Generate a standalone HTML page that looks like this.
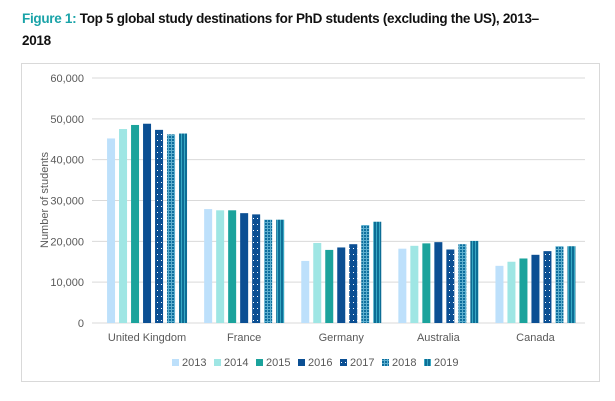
<!DOCTYPE html>
<html><head><meta charset="utf-8"><style>
body{margin:0;width:615px;height:401px;background:#fff;font-family:"Liberation Sans",sans-serif;overflow:hidden}
#title{position:absolute;left:22px;top:8px;width:590px;font-weight:bold;font-size:13.5px;letter-spacing:-0.3px;line-height:22px;color:#111;white-space:nowrap}
#title span{color:#1aa3a8}
#frame{position:absolute;left:21px;top:63px;width:577px;height:317px;border:1px solid #d9d9d9}
svg{position:absolute;left:0;top:0}
</style></head><body>
<div id="title"><span>Figure 1:</span> Top 5 global study destinations for PhD students (excluding the US), 2013–<br>2018</div>
<div id="frame"></div>
<svg id="chart" width="615" height="401">
<defs>
<pattern id="p17" width="4" height="6" patternUnits="userSpaceOnUse"><rect width="4" height="6" fill="#0b4f93"/><rect x="1" y="2" width="1" height="1" fill="#fff"/></pattern>
<pattern id="p18" width="3" height="3" patternUnits="userSpaceOnUse"><rect width="3" height="3" fill="#0e6f9e"/><rect width="3" height="1" fill="#5fb0cf"/><rect width="1" height="3" fill="#5fb0cf"/></pattern>
<pattern id="p19" width="3" height="3" patternUnits="userSpaceOnUse"><rect width="3" height="3" fill="#0d6d95"/><rect x="1" width="1" height="3" fill="#38a9c4"/></pattern>
</defs>
</svg>
<script>
const categories=["United Kingdom","France","Germany","Australia","Canada"];
const years=["2013","2014","2015","2016","2017","2018","2019"];
const s2013=[45200,27900,15200,18200,14000];
const s2014=[47500,27600,19600,18900,15000];
const s2015=[48500,27600,17900,19500,15800];
const s2016=[48800,26900,18500,19800,16700];
const s2017=[47300,26600,19300,18000,17600];
const s2018=[46200,25300,24000,19300,18800];
const s2019=[46400,25300,24800,20100,18800];
const ticks=[0,10000,20000,30000,40000,50000,60000];
const series=[s2013,s2014,s2015,s2016,s2017,s2018,s2019];
const fills=["#bde0fb","#9fe6e4","#1ba39c","#0b4f93","url(#p17)","url(#p18)","url(#p19)"];
const svg=document.getElementById('chart');
const NS="http://www.w3.org/2000/svg";
const X0=98.5,X1=584,Y0=323,Y1=78,MAX=60000;
const y=v=>Y0-(v/MAX)*(Y0-Y1);
const cw=(X1-X0)/categories.length;
const bw=8,step=12;
function mk(t,a){const e=document.createElementNS(NS,t);for(const k in a)e.setAttribute(k,a[k]);svg.appendChild(e);return e;}
ticks.forEach(t=>{
 const l=mk('line',{x1:92,x2:585,y1:y(t),y2:y(t),stroke:'#d9d9d9','stroke-width':1});
 
 
 const tx=mk('text',{x:84,y:y(t)+4,'text-anchor':'end','font-size':11,fill:'#595959'});
 tx.textContent=t.toLocaleString('en-US');
 
 
});
const yt=mk('text',{x:0,y:0,transform:'translate(48,200) rotate(-90)','text-anchor':'middle','font-size':11,fill:'#595959'});
yt.textContent='Number of students';


categories.forEach((c,i)=>{
 const cx=X0+cw*(i+0.5);
 const start=cx-(step*6+bw)/2;
 series.forEach((s,j)=>{
  const r=mk('rect',{x:start+j*step,y:y(s[i]),width:bw,height:Y0-y(s[i]),fill:fills[j]});
  
  
 });
 const t=mk('text',{x:cx,y:341,'text-anchor':'middle','font-size':11,fill:'#595959'});
 t.textContent=c;
 
 
});
let lx=172;
years.forEach((yr,j)=>{
 const r=mk('rect',{x:lx,y:359,width:7,height:7,fill:fills[j]});
 
 
 const t=mk('text',{x:lx+10,y:366,'font-size':11,fill:'#595959'});
 t.textContent=yr;
 
 
 lx+=42;
});
</script>
</body></html>
